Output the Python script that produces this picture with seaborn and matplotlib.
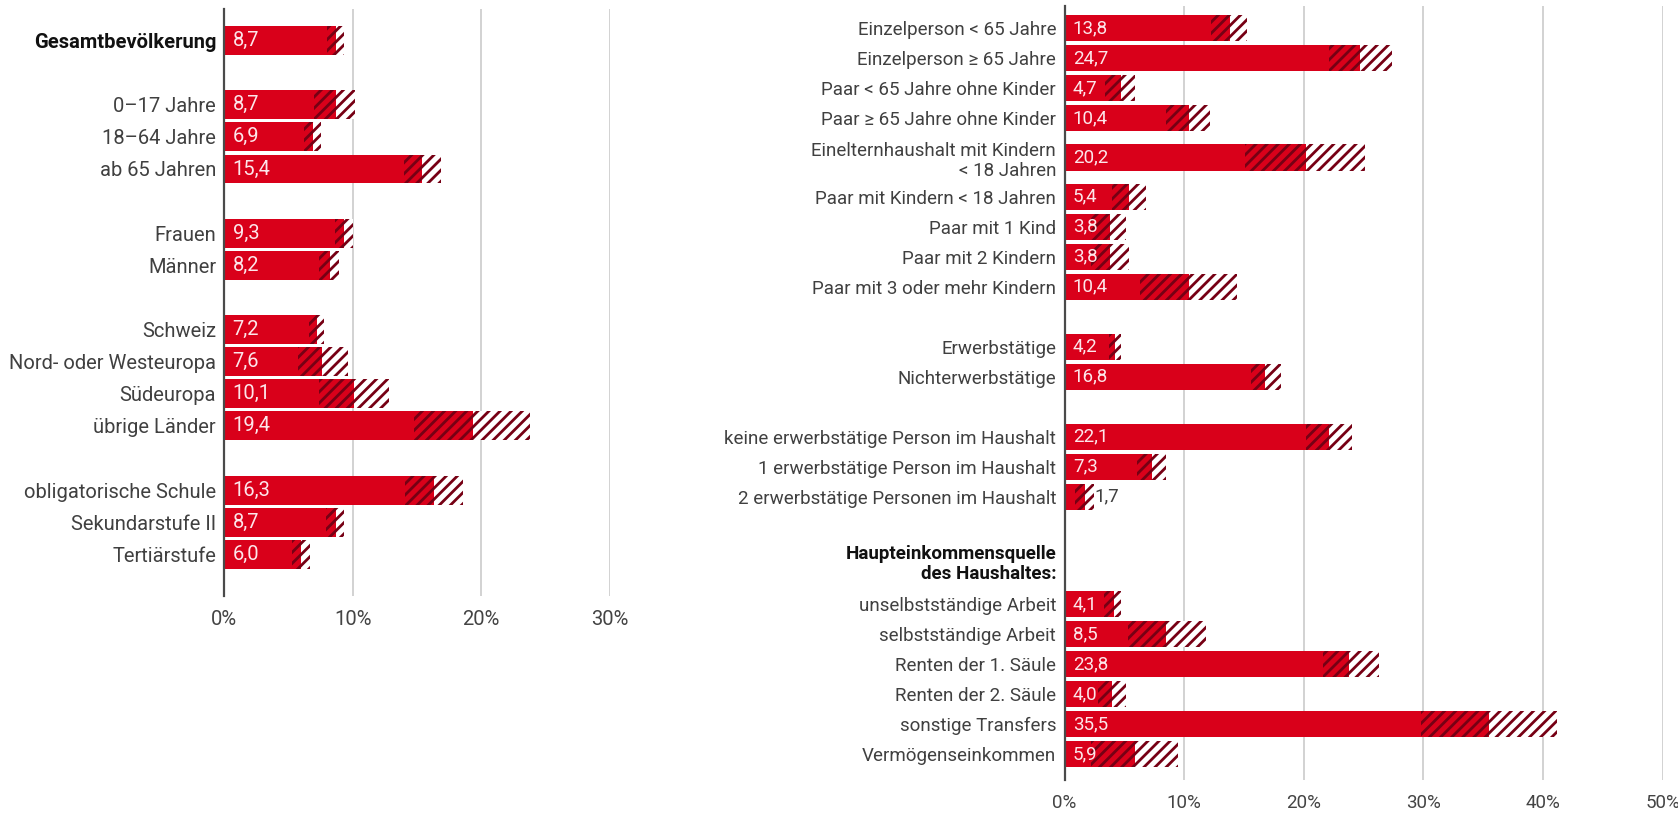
import matplotlib
matplotlib.use("Agg")
import matplotlib.pyplot as plt
import numpy as np
import pandas as pd
import seaborn as sns

# ---------------------------------------------------------------------------
# Data: at-risk-of-poverty rate (%) with 95% confidence interval
# ---------------------------------------------------------------------------
left_labels = [
    "Gesamtbevölkerung",
    "0–17 Jahre", "18–64 Jahre", "ab 65 Jahren",
    "Frauen", "Männer",
    "Schweiz", "Nord- oder Westeuropa", "Südeuropa", "übrige Länder",
    "obligatorische Schule", "Sekundarstufe II", "Tertiärstufe",
]
left_groups = [0, 1, 1, 1, 2, 2, 3, 3, 3, 3, 4, 4, 4]
left_values = [8.7, 8.7, 6.9, 15.4, 9.3, 8.2, 7.2, 7.6, 10.1, 19.4, 16.3, 8.7, 6.0]
left_lower = [8.0, 7.0, 6.2, 14.0, 8.6, 7.4, 6.6, 5.7, 7.4, 14.8, 14.1, 7.9, 5.3]
left_upper = [9.35, 10.2, 7.5, 16.9, 10.0, 8.95, 7.75, 9.6, 12.8, 23.8, 18.55, 9.3, 6.7]

right_labels = [
    "Einzelperson < 65 Jahre", "Einzelperson ≥ 65 Jahre",
    "Paar < 65 Jahre ohne Kinder", "Paar ≥ 65 Jahre ohne Kinder",
    "Einelternhaushalt mit Kindern\n< 18 Jahren",
    "Paar mit Kindern < 18 Jahren", "Paar mit 1 Kind", "Paar mit 2 Kindern",
    "Paar mit 3 oder mehr Kindern",
    "Erwerbstätige", "Nichterwerbstätige",
    "keine erwerbstätige Person im Haushalt",
    "1 erwerbstätige Person im Haushalt",
    "2 erwerbstätige Personen im Haushalt",
    "unselbstständige Arbeit", "selbstständige Arbeit",
    "Renten der 1. Säule", "Renten der 2. Säule",
    "sonstige Transfers", "Vermögenseinkommen",
]
right_groups = [0, 0, 0, 0, 0, 0, 0, 0, 0, 1, 1, 2, 2, 2, 3, 3, 3, 3, 3, 3]
right_values = [13.8, 24.7, 4.7, 10.4, 20.2, 5.4, 3.8, 3.8, 10.4,
                4.2, 16.8, 22.1, 7.3, 1.7, 4.1, 8.5, 23.8, 4.0, 35.5, 5.9]
right_lower = [12.25, 22.1, 3.4, 8.5, 15.1, 4.0, 2.2, 2.2, 6.3,
               3.7, 15.6, 20.2, 6.1, 0.9, 3.3, 5.3, 21.6, 2.8, 29.8, 2.2]
right_upper = [15.25, 27.4, 5.9, 12.2, 25.15, 6.8, 5.1, 5.4, 14.45,
               4.7, 18.1, 24.0, 8.5, 2.45, 4.75, 11.8, 26.3, 5.15, 41.2, 9.45]
right_header = "Haupteinkommensquelle\ndes Haushaltes:"
left_ticks = [0, 10, 20, 30]
right_ticks = [0, 10, 20, 30, 40, 50]

# ---------------------------------------------------------------------------
# Style
# ---------------------------------------------------------------------------
sns.set_theme(style="white")
plt.rcParams["font.family"] = ["Roboto", "DejaVu Sans"]
plt.rcParams["hatch.linewidth"] = 2.0

RED = "#d9001a"
DARK = "#760014"
TEXT = "#404040"
TICK = "#444444"
VALUE = "#fde6ea"
GRID = "#d2d2d2"
HATCH = "///"


def row_positions(labels, groups, header_gap=0.0):
    """Vertical slot of each row: one blank row between groups, extra room
    around two-line labels and before the last group when it has a header."""
    pos, y = [], 0.0
    for i, (lab, g) in enumerate(zip(labels, groups)):
        if i > 0:
            step = 1.0
            if g != groups[i - 1]:
                step = 2.0
                if g == groups[-1] and header_gap:
                    step += header_gap
            if "\n" in lab or "\n" in labels[i - 1]:
                step += 0.31
            y += step
        pos.append(y)
    return pos


def draw_panel(ax, labels, groups, values, lower, upper, ticks, xmax, ylim,
               width, fs, header_gap=0.0):
    pos = row_positions(labels, groups, header_gap)
    df = pd.DataFrame({"pos": pos, "value": values, "lower": lower, "upper": upper})

    layers = [
        ("upper", "white", HATCH),  # upper half of the confidence interval
        ("value", RED, HATCH),      # lower half of the confidence interval
        ("lower", RED, ""),         # certain part
    ]
    for col, face, hatch in layers:
        before = len(ax.patches)
        sns.barplot(data=df, x=col, y="pos", orient="y", native_scale=True,
                    width=width, color=face, saturation=1, errorbar=None, ax=ax)
        for p in ax.patches[before:]:
            p.set_facecolor(face)
            p.set_edgecolor(DARK)
            p.set_linewidth(0)
            p.set_hatch(hatch)
            p.set_zorder(2)

    # value labels
    for y, v, lo, up in zip(pos, values, lower, upper):
        txt = f"{v:.1f}".replace(".", ",")
        if v < 2:
            ax.annotate(txt, (up, y), xytext=(0.5, 0), textcoords="offset points",
                        ha="left", va="center", fontsize=fs, color=TEXT, zorder=4)
        else:
            ax.annotate(txt, (0, y), xytext=(6.0, 0), textcoords="offset points",
                        ha="left", va="center", fontsize=fs, color=VALUE, zorder=4)

    ax.set_xlim(0, xmax)
    ax.set_ylim(*ylim)
    ax.set_xticks(ticks, [f"{t}%" for t in ticks])
    ax.set_yticks(pos, labels)
    ax.set_xlabel("")
    ax.set_ylabel("")
    ax.tick_params(axis="both", length=0)
    ax.tick_params(axis="x", pad=10, labelsize=fs, labelcolor=TICK)
    ax.tick_params(axis="y", pad=6.0, labelsize=fs, labelcolor=TEXT)
    for lab in ax.get_yticklabels():
        lab.set_linespacing(1.15)

    for t in ticks[1:]:
        ax.axvline(t, color=GRID, lw=1.4, zorder=0)
    for side in ["top", "right", "bottom"]:
        ax.spines[side].set_visible(False)
    ax.spines["left"].set_color("#4a4a4a")
    ax.spines["left"].set_linewidth(1.6)
    ax.spines["left"].set_zorder(3)
    ax.grid(False)
    return pos


fig = plt.figure(figsize=(16.78, 8.13), dpi=100)
ax_l = fig.add_axes([0.1337, 0.2669, 0.2296, 0.7217])
ax_r = fig.add_axes([0.6344, 0.0406, 0.3564, 0.9520])

draw_panel(ax_l, left_labels, left_groups, left_values, left_lower, left_upper,
           left_ticks, 30, (17.3, -0.975), 0.9, 14.5)
ax_l.get_yticklabels()[0].set_fontweight("bold")
ax_l.get_yticklabels()[0].set_color("#111111")

pos_r = draw_panel(ax_r, right_labels, right_groups, right_values, right_lower,
                   right_upper, right_ticks, 50, (25.06, -0.74), 0.88, 13.5,
                   header_gap=1.57)

# header above the income-source group
first_income = right_groups.index(right_groups[-1])
ax_r.annotate(right_header, xy=(0, pos_r[first_income] - 1.34),
              xycoords=("axes fraction", "data"), xytext=(-6.0, 0),
              textcoords="offset points", ha="right", va="center",
              fontsize=13.5, fontweight="bold", color="#111111",
              linespacing=1.12, annotation_clip=False)

fig.savefig("out.png", dpi=100)
